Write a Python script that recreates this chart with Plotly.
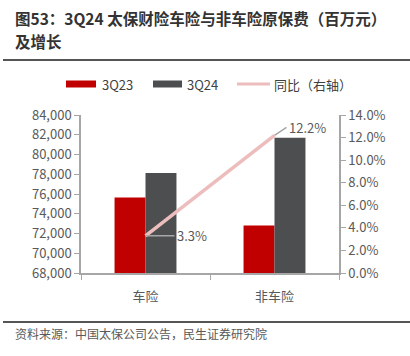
import plotly.graph_objects as go

categories = ["车险", "非车险"]
prem_3q23 = [75650, 72800]
prem_3q24 = [78130, 81700]
growth_pct = [3.3, 12.2]
growth_labels = ["3.3%", "12.2%"]
series_names = ["3Q23", "3Q24", "同比（右轴）"]
title_lines = ["图53：3Q24 太保财险车险与非车险原保费（百万元）", "及增长"]
source_text = "资料来源：中国太保公司公告，民生证券研究院"

W, H = 410, 356
L, R, T, B = 81, 71, 115, 83
PW, PH = W - L - R, H - T - B

def xp(p):
    return (p - L) / PW

def yp(p):
    return (H - B - p) / PH

RED = "#C00000"
DARK = "#4D4E50"
PINK = "#EDBDBD"
AXIS = "#A6A6A6"
TXT = "#595959"
FONT = "Noto Sans CJK SC"

fig = go.Figure()
fig.add_trace(go.Bar(x=categories, y=prem_3q23, name=series_names[0],
                     marker=dict(color=RED, line=dict(width=0)), showlegend=False))
fig.add_trace(go.Bar(x=categories, y=prem_3q24, name=series_names[1],
                     marker=dict(color=DARK, line=dict(width=0)), showlegend=False))
fig.add_trace(go.Scatter(x=categories, y=growth_pct, name=series_names[2], yaxis="y2",
                         mode="lines", line=dict(color=PINK, width=3.5), showlegend=False))

annotations = []
annotations.append(dict(x=categories[0], y=growth_pct[0], xref="x", yref="y2",
                        text=growth_labels[0], showarrow=True, arrowhead=0, arrowwidth=1.5,
                        arrowcolor=AXIS, ax=29, ay=0, xanchor="left", yanchor="middle",
                        font=dict(size=13, color=TXT, family=FONT), standoff=0))
annotations.append(dict(x=categories[1], y=growth_pct[1], xref="x", yref="y2",
                        text=growth_labels[1], showarrow=True, arrowhead=0, arrowwidth=1.5,
                        arrowcolor=AXIS, ax=12, ay=-8, xanchor="left", yanchor="middle",
                        font=dict(size=13, color=TXT, family=FONT), standoff=0))
for ypos, line in [(18, title_lines[0]), (41, title_lines[1])]:
    annotations.append(dict(x=xp(13), y=yp(ypos), xref="paper", yref="paper", xanchor="left",
                            yanchor="middle", align="left", showarrow=False,
                            text="<b>" + line + "</b>",
                            font=dict(size=15.5, color="#333333", family=FONT)))
annotations.append(dict(x=xp(13), y=yp(333), xref="paper", yref="paper", xanchor="left",
                        yanchor="middle", showarrow=False, text=source_text,
                        font=dict(size=12, color=TXT, family=FONT)))
for xpos, label in [(100, series_names[0]), (185, series_names[1]), (272, series_names[2])]:
    annotations.append(dict(x=xp(xpos), y=yp(84), xref="paper", yref="paper", xanchor="left",
                            yanchor="middle", showarrow=False, text=label,
                            font=dict(size=13, color="#404040", family=FONT)))

shapes = [
    dict(type="line", xref="paper", yref="paper", x0=xp(3), x1=xp(410), y0=yp(60), y1=yp(60),
         line=dict(color="#555555", width=2)),
    dict(type="line", xref="paper", yref="paper", x0=xp(3), x1=xp(410), y0=yp(322), y1=yp(322),
         line=dict(color="#555555", width=2)),
    dict(type="rect", xref="paper", yref="paper", x0=xp(66), x1=xp(96), y0=yp(87.5), y1=yp(80.5),
         fillcolor=RED, line=dict(width=0)),
    dict(type="rect", xref="paper", yref="paper", x0=xp(153), x1=xp(182), y0=yp(87.5), y1=yp(80.5),
         fillcolor=DARK, line=dict(width=0)),
    dict(type="line", xref="paper", yref="paper", x0=xp(237), x1=xp(270), y0=yp(84), y1=yp(84),
         line=dict(color=PINK, width=3)),
]

fig.update_layout(
    width=W, height=H,
    margin=dict(l=L, r=R, t=T, b=B, pad=0),
    paper_bgcolor="white", plot_bgcolor="white",
    barmode="group", bargap=0.52, bargroupgap=0,
    font=dict(family=FONT, size=13, color=TXT),
    showlegend=False,
    xaxis=dict(showline=True, linecolor=AXIS, linewidth=1.5, ticks="outside", tickson="boundaries",
               ticklen=5, tickcolor=AXIS, showgrid=False, ticklabelstandoff=11,
               tickfont=dict(size=13, color=TXT, family=FONT)),
    yaxis=dict(range=[68000, 84000], dtick=2000, tickformat=",d", showline=True, linecolor=AXIS,
               linewidth=1.5, ticks="outside", ticklen=5, tickcolor=AXIS, showgrid=False,
               zeroline=False, tickfont=dict(size=13, color=TXT, family=FONT)),
    yaxis2=dict(range=[0, 14], dtick=2, tickformat=".1f", ticksuffix="%", overlaying="y",
                side="right", showline=True, linecolor=AXIS, linewidth=1.5, ticks="outside",
                ticklen=5, tickcolor=AXIS, showgrid=False, zeroline=False,
                tickfont=dict(size=13, color=TXT, family=FONT)),
    annotations=annotations,
    shapes=shapes,
)

fig.write_html("out.html", config={"displayModeBar": False},
               post_script="document.body.style.margin='0';document.body.style.padding='0';")
